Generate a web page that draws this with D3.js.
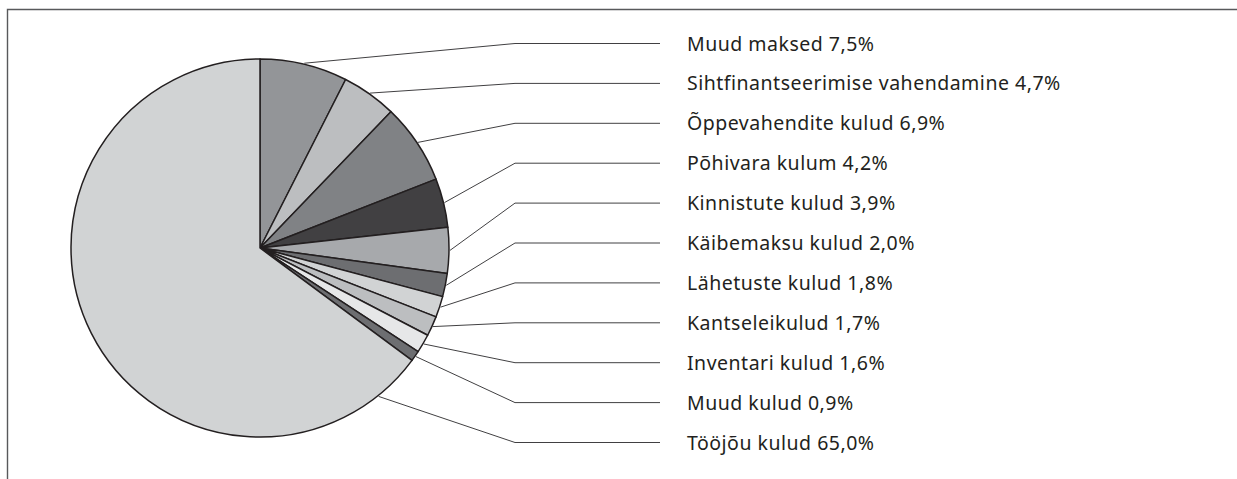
<!DOCTYPE html>
<html>
<head>
<meta charset="utf-8">
<script src="https://cdn.jsdelivr.net/npm/d3@7"></script>
<style>
  html, body { margin: 0; padding: 0; background: #ffffff; }
  svg { display: block; }
</style>
</head>
<body>
<div id="chart"></div>
<script>
const CATEGORIES = [
  "Muud maksed",
  "Sihtfinantseerimise vahendamine",
  "Õppevahendite kulud",
  "Põhivara kulum",
  "Kinnistute kulud",
  "Käibemaksu kulud",
  "Lähetuste kulud",
  "Kantseleikulud",
  "Inventari kulud",
  "Muud kulud",
  "Tööjõu kulud",
];

const SHARES = [7.5, 4.7, 6.9, 4.2, 3.9, 2.0, 1.8, 1.7, 1.6, 0.9, 65.0];

const FILLS = [
  "#939598",
  "#bcbec0",
  "#808285",
  "#414042",
  "#a7a9ac",
  "#6d6e71",
  "#d1d3d4",
  "#bcbec0",
  "#e6e7e8",
  "#6d6e71",
  "#d1d3d4",
];

const width = 1237;
const height = 479;
const center = { x: 260, y: 248 };
const radius = 189;
const elbowX = 515;
const lineEndX = 660;
const labelX = 687;
const firstLabelY = 43.5;
const labelStep = 39.9;

const formatShare = (v) => d3.format(".1f")(v).replace(".", ",") + "%";

const svg = d3
  .select("#chart")
  .append("svg")
  .attr("width", width)
  .attr("height", height);

// frame (only top and left edges are visible in the crop)
svg
  .append("path")
  .attr("d", `M7.5,${height} V9.5 H${width}`)
  .attr("fill", "none")
  .attr("stroke", "#58595b")
  .attr("stroke-width", 1.4);

const data = CATEGORIES.map((name, i) => ({ name, value: SHARES[i], fill: FILLS[i] }));

const pie = d3.pie().sort(null).value((d) => d.value);
const arcs = pie(data);
const arc = d3.arc().innerRadius(0).outerRadius(radius);

const chart = svg
  .append("g")
  .attr("transform", `translate(${center.x},${center.y})`);

chart
  .selectAll("path.slice")
  .data(arcs)
  .join("path")
  .attr("class", "slice")
  .attr("d", arc)
  .attr("fill", (d) => d.data.fill)
  .attr("stroke", "#231f20")
  .attr("stroke-width", 1.5)
  .attr("stroke-linejoin", "round");

const labelY = d3
  .scaleLinear()
  .domain([0, 1])
  .range([firstLabelY, firstLabelY + labelStep]);

// anchor on the rim; a slice that wraps far round gets its anchor near its start
const anchorAngle = (d) => Math.min((d.startAngle + d.endAngle) / 2, d.startAngle + 0.26);

const leaders = svg.append("g").attr("fill", "none");

arcs.forEach((d, i) => {
  const a = anchorAngle(d);
  const x0 = center.x + Math.sin(a) * (radius + 1);
  const y0 = center.y - Math.cos(a) * (radius + 1);
  const y = labelY(i);
  leaders
    .append("path")
    .attr("d", `M${x0},${y0} L${elbowX},${y} H${lineEndX}`)
    .attr("stroke", "#414042")
    .attr("stroke-width", 1);

  svg
    .append("text")
    .attr("x", labelX)
    .attr("y", y + 7)
    .attr("font-family", "'Noto Sans', 'Open Sans', sans-serif")
    .attr("font-size", 19.5)
    .attr("letter-spacing", 0.5)
    .attr("fill", "#231f20")
    .text(`${d.data.name} ${formatShare(d.data.value)}`);
});
</script>
</body>
</html>
